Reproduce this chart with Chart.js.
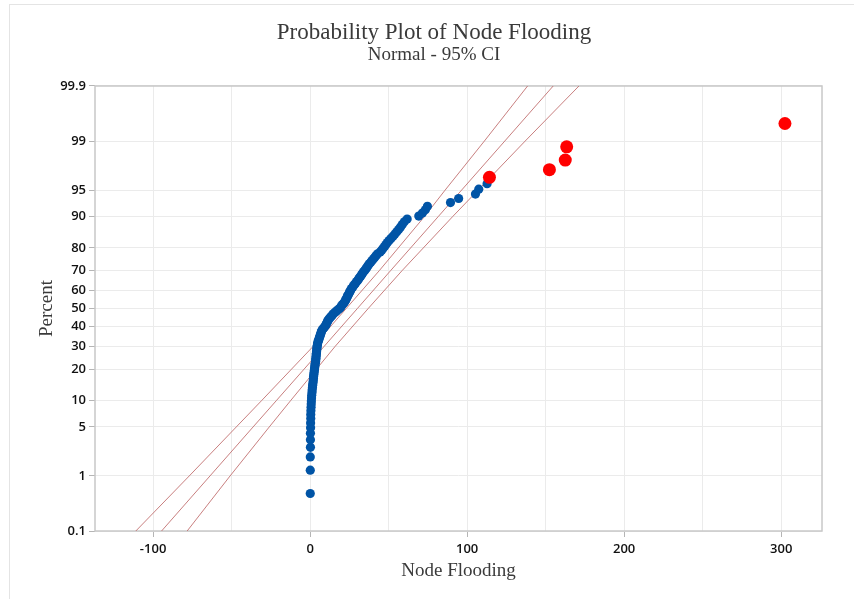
<!DOCTYPE html>
<html>
<head>
<meta charset="utf-8">
<title>Probability Plot of Node Flooding</title>
<script src="https://cdn.jsdelivr.net/npm/chart.js@4.4.1/dist/chart.umd.min.js"></script>
<style>
  html, body { margin: 0; padding: 0; background: #fff; }
  #wrap { position: relative; width: 854px; height: 599px; }
  #frame { position: absolute; left: 9px; top: 4px; right: 0; bottom: 0;
           border-top: 1px solid #e4e4e4; border-left: 1px solid #e4e4e4; pointer-events: none; }
</style>
</head>
<body>
<div id="wrap">
  <canvas id="chart" width="854" height="599"></canvas>
  <div id="frame"></div>
</div>
<script>
// node flooding values (sorted), blue points
const nodeFlooding = [
  0.1, 0.1, 0.1, 0.2, 0.2, 0.2, 0.3, 0.3,
  0.4, 0.4, 0.5, 0.6, 0.7, 0.8,
  0.9, 1.0, 1.2, 1.3, 1.5, 1.6, 1.8, 2.0, 2.1,
  2.2, 2.4, 2.5, 2.7, 2.8, 3.0, 3.1, 3.3, 3.5,
  3.6, 3.7, 3.8, 3.9, 4.0, 4.1, 4.2, 4.3, 4.4, 4.6, 4.7,
  4.9, 5.2, 5.5, 5.8, 6.1, 6.4, 6.7, 7.0, 7.3, 7.7,
  8.4, 9.1, 9.8, 10.2,
  10.6, 11.0, 11.4, 12.0, 12.7,
  13.4, 14.2, 14.8, 15.8, 16.7, 17.8,
  18.8, 19.4, 20.0, 20.7, 21.3, 22.0,
  22.5, 22.9, 23.3, 23.7, 24.1, 24.6, 25.0, 25.5,
  25.8, 26.4, 27.1, 27.6, 28.3, 29.0,
  29.7, 30.4, 31.0, 31.6, 32.3, 32.9, 33.5,
  34.2, 35.0, 35.7, 36.3, 37.0, 37.7, 38.6,
  39.5, 40.4, 41.2, 42.1, 43.0, 44.6, 45.6,
  46.5, 47.4, 48.3, 49.2, 50.3, 51.5, 52.8,
  54.0, 55.2, 56.4, 57.6, 58.7, 60.0, 61.8,
  69.2, 71.5, 73.4, 74.7,
  89.4, 94.6, 105.3, 107.4, 112.7
];
// the red (flagged) points at the top end
const outliers = [114.2, 152.4, 162.5, 163.4, 302.4];

const percentTicks = [0.1, 1, 5, 10, 20, 30, 40, 50, 60, 70, 80, 90, 95, 99, 99.9];
const xTicks = [-100, -50, 0, 50, 100, 150, 200, 250, 300];

// fitted line and 95% CI band, read at these percent levels
const ciLevels = [0.1, 1, 5, 10, 30, 50, 70, 90, 95, 99, 99.9];
const fitLine  = [-94.6, -63.8, -36.3, -21.6, 9.0, 30.1, 51.2, 81.8, 96.5, 124.0, 154.8];
const ciLower  = [-111.0, -77.0, -47.0, -31.0, 2.0, 23.0, 44.0, 73.0, 86.0, 111.0, 138.5];
const ciUpper  = [-78.3, -51.0, -26.0, -12.5, 16.0, 37.0, 58.5, 91.0, 107.0, 137.0, 171.2];

// inverse normal cdf, used for the probability scale
function probit(p) {
  const a = [-39.69683028665376, 220.9460984245205, -275.9285104469687, 138.3577518672690, -30.66479806614716, 2.506628277459239];
  const b = [-54.47609879822406, 161.5858368580409, -155.6989798598866, 66.80131188771972, -13.28068155288572];
  const c = [-0.007784894002430293, -0.3223964580411365, -2.400758277161838, -2.549732539343734, 4.374664141464968, 2.938163982698783];
  const d = [0.007784695709041462, 0.3224671290700398, 2.445134137142996, 3.754408661907416];
  const pl = 0.02425;
  let q, r;
  if (p < pl) {
    q = Math.sqrt(-2 * Math.log(p));
    return (((((c[0]*q+c[1])*q+c[2])*q+c[3])*q+c[4])*q+c[5]) / ((((d[0]*q+d[1])*q+d[2])*q+d[3])*q+1);
  }
  if (p <= 1 - pl) {
    q = p - 0.5; r = q * q;
    return (((((a[0]*r+a[1])*r+a[2])*r+a[3])*r+a[4])*r+a[5])*q / (((((b[0]*r+b[1])*r+b[2])*r+b[3])*r+b[4])*r+1);
  }
  q = Math.sqrt(-2 * Math.log(1 - p));
  return -(((((c[0]*q+c[1])*q+c[2])*q+c[3])*q+c[4])*q+c[5]) / ((((d[0]*q+d[1])*q+d[2])*q+d[3])*q+1);
}

// median rank plotting positions
const all = nodeFlooding.concat(outliers).sort((a, b) => a - b);
const n = all.length;
const ranked = all.map((v, i) => ({ x: v, y: probit((i + 1 - 0.3) / (n + 0.4)) }));
const bluePts = ranked.slice(0, nodeFlooding.length);
const redPts = ranked.slice(nodeFlooding.length);

const toLine = (xs) => xs.map((v, i) => ({ x: v, y: probit(ciLevels[i] / 100) }));

const lineStyle = {
  type: 'line', showLine: true, pointRadius: 0, borderWidth: 1,
  borderColor: 'rgba(190, 105, 105, 0.85)', fill: false, order: 3
};

const serif = "'Liberation Serif', 'Times New Roman', serif";
const sans = "'Open Sans', 'Noto Sans', sans-serif";

// box around the plot area
const plotFrame = {
  id: 'plotFrame',
  beforeDatasetsDraw(chart) {
    const { ctx, chartArea: a } = chart;
    ctx.save();
    ctx.strokeStyle = '#c8c8c8';
    ctx.lineWidth = 1.5;
    ctx.strokeRect(a.left, a.top, a.right - a.left, a.bottom - a.top);
    ctx.restore();
  }
};

new Chart(document.getElementById('chart'), {
  type: 'scatter',
  data: {
    datasets: [
      { label: 'Outliers', data: redPts, backgroundColor: '#ff0000', pointRadius: 6.5, borderWidth: 0, order: 0 },
      { label: 'Node Flooding', data: bluePts, backgroundColor: '#0054a6', pointRadius: 4.6, borderWidth: 0, order: 1 },
      { ...lineStyle, label: 'Fit', data: toLine(fitLine) },
      { ...lineStyle, label: 'Lower CI', data: toLine(ciLower) },
      { ...lineStyle, label: 'Upper CI', data: toLine(ciUpper) }
    ]
  },
  options: {
    responsive: false,
    animation: false,
    devicePixelRatio: 1,
    layout: { padding: { top: 20, left: 30, right: 16, bottom: 16.6 } },
    plugins: {
      legend: { display: false },
      tooltip: { enabled: false },
      title: {
        display: true, text: 'Probability Plot of Node Flooding', color: '#3a3a3a',
        font: { family: serif, size: 23, weight: 'normal', lineHeight: 1.1 },
        padding: { top: 0, bottom: 0 }
      },
      subtitle: {
        display: true, text: 'Normal - 95% CI', color: '#3a3a3a',
        font: { family: serif, size: 19, weight: 'normal', lineHeight: 1.0 },
        padding: { top: 0, bottom: 21.7 }
      }
    },
    scales: {
      x: {
        type: 'linear', min: -137, max: 326,
        afterBuildTicks: (s) => { s.ticks = xTicks.map(v => ({ value: v })); },
        afterFit: (s) => { s.height = 51.4; },
        border: { display: false },
        grid: {
          color: '#ebebeb', tickLength: 6,
          tickColor: (ctx) => (ctx.tick && ctx.tick.value % 100 === 0) ? '#b5b5b5' : 'rgba(0,0,0,0)'
        },
        ticks: {
          autoSkip: false, maxRotation: 0, padding: 4, color: '#111',
          font: { family: sans, size: 13, weight: '600' },
          callback: (v) => (v % 100 === 0 ? String(v) : '')
        },
        title: {
          display: true, text: 'Node Flooding', color: '#3a3a3a',
          font: { family: serif, size: 19, lineHeight: 1.2 },
          padding: { top: 0, bottom: 0 }
        }
      },
      y: {
        type: 'linear', min: probit(0.001), max: probit(0.999),
        afterBuildTicks: (s) => { s.ticks = percentTicks.map(p => ({ value: probit(p / 100) })); },
        afterFit: (s) => { s.width = 65; },
        border: { display: false },
        grid: { color: '#ebebeb', tickLength: 6, tickColor: '#b5b5b5' },
        ticks: {
          autoSkip: false, padding: 3, color: '#111',
          font: { family: sans, size: 13, weight: '600' },
          callback: (v, i) => String(percentTicks[i])
        },
        title: {
          display: true, text: 'Percent', color: '#3a3a3a',
          font: { family: serif, size: 19, lineHeight: 1.2 },
          padding: { top: 6, bottom: 0 }
        }
      },
      // empty right-hand gutter so the title sits where the reference has it
      gutter: {
        type: 'linear', position: 'right', display: true,
        afterFit: (s) => { s.width = 16; },
        grid: { display: false }, border: { display: false },
        ticks: { display: false }
      }
    }
  },
  plugins: [plotFrame]
});
</script>
</body>
</html>
